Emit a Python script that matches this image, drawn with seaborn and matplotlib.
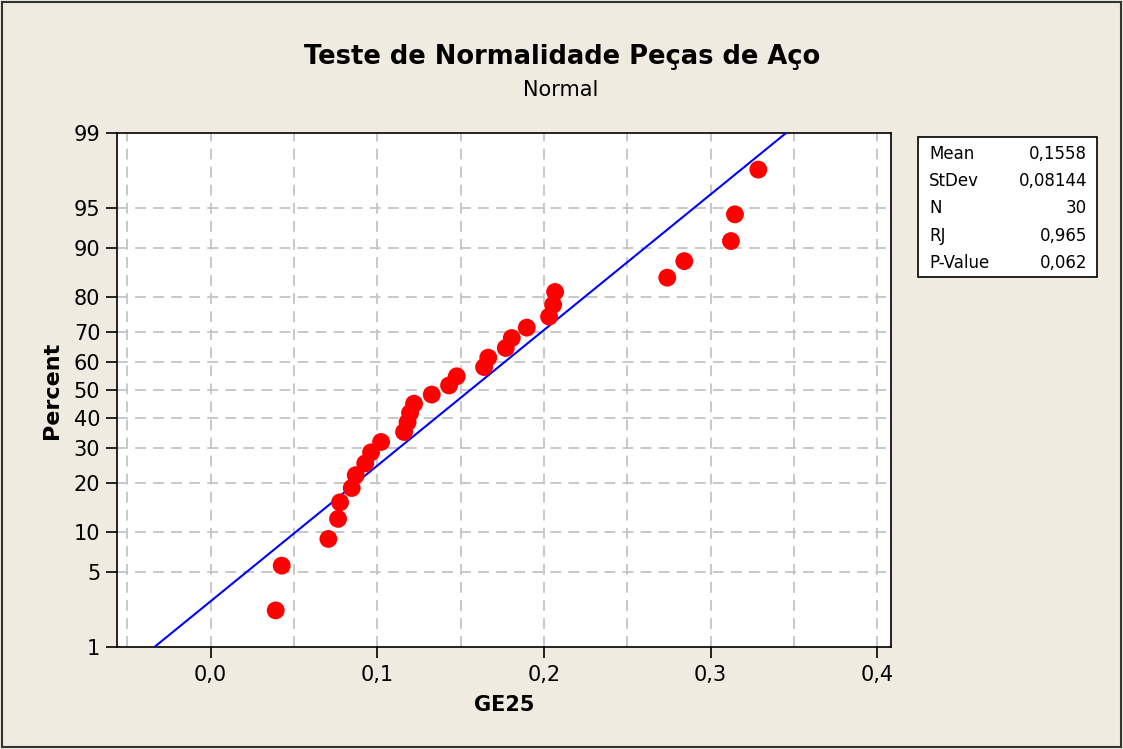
import numpy as np
import pandas as pd
import matplotlib
matplotlib.use('Agg')
import matplotlib.pyplot as plt
from matplotlib.patches import Rectangle
from matplotlib.ticker import FixedLocator, FuncFormatter
import seaborn as sns
from statistics import NormalDist

# valores
ge25 = [0.0391, 0.0427, 0.0707, 0.0765, 0.0777, 0.0847, 0.0871, 0.0928, 0.0963, 0.1023,
        0.1161, 0.1182, 0.1197, 0.1221, 0.1327, 0.1431, 0.1477, 0.1641, 0.1666, 0.1771,
        0.1807, 0.1897, 0.2031, 0.2055, 0.2067, 0.2740, 0.2842, 0.3122, 0.3146, 0.3286]
percent_ticks = [1, 5, 10, 20, 30, 40, 50, 60, 70, 80, 90, 95, 99]
x_ticks = [0.0, 0.1, 0.2, 0.3, 0.4]
stat_labels = ['Mean', 'StDev', 'N', 'RJ', 'P-Value']
stat_values = ['0,1558', '0,08144', '30', '0,965', '0,062']
media = 0.1558
desvio = 0.08144

nd = NormalDist()
n = len(ge25)
# posições de Benard (median ranks), como no Minitab
df = pd.DataFrame({'GE25': sorted(ge25)})
df['z'] = [nd.inv_cdf((i - 0.3) / (n + 0.4)) for i in range(1, n + 1)]

z_lo, z_hi = nd.inv_cdf(0.01), nd.inv_cdf(0.99)
linha = pd.DataFrame({'z': [z_lo, z_hi]})
linha['GE25'] = media + desvio * linha['z']

sns.set_theme(style='white')
plt.rcParams['font.family'] = ['DejaVu Sans']
plt.rcParams['text.color'] = 'black'
plt.rcParams['axes.labelcolor'] = 'black'
plt.rcParams['xtick.color'] = 'black'
plt.rcParams['ytick.color'] = 'black'

bg = '#EFEBE1'
fig = plt.figure(figsize=(11.23, 7.49), dpi=100, facecolor=bg)
ax = fig.add_axes([117 / 1123, 1 - 647 / 749, 774 / 1123, 514 / 749])
ax.set_facecolor('white')

sns.lineplot(data=linha, x='GE25', y='z', color='#0000FF', lw=1.5, ax=ax, zorder=3)
sns.scatterplot(data=df, x='GE25', y='z', color='#FF0000', s=165, edgecolor='none',
                ax=ax, zorder=4)

ax.set_xlim(-0.0561, 0.4082)
ax.set_ylim(z_lo, z_hi)

ax.xaxis.set_major_locator(FixedLocator(x_ticks))
ax.xaxis.set_major_formatter(FuncFormatter(lambda v, p: f'{v:.1f}'.replace('.', ',')))
ax.set_yticks([nd.inv_cdf(p / 100) for p in percent_ticks])
ax.set_yticklabels([str(p) for p in percent_ticks])

# grade tracejada
for xv in np.arange(-0.05, 0.401, 0.05):
    ax.axvline(xv, color='#C4C4C4', lw=1.3, ls=(0, (6, 4)), zorder=1)
for p in percent_ticks[1:-1]:
    ax.axhline(nd.inv_cdf(p / 100), color='#C4C4C4', lw=1.3, ls=(0, (6, 4)), zorder=1)

for s in ax.spines.values():
    s.set_color('black')
    s.set_linewidth(1.2)
ax.tick_params(axis='both', direction='out', length=8, width=1.2, color='black',
               labelsize=15, pad=4, bottom=True, left=True)
ax.tick_params(axis='x', pad=5)

ax.set_xlabel('GE25', fontsize=15, fontweight='bold', labelpad=7)
ax.set_ylabel('Percent', fontsize=16, fontweight='bold', labelpad=8)

fig.text(0.501, 1 - 57 / 749, 'Teste de Normalidade Peças de Aço', ha='center', va='center',
         fontsize=18.5, fontweight='bold')
fig.text(0.499, 1 - 90 / 749, 'Normal', ha='center', va='center', fontsize=15)

# caixa de estatísticas
fig.patches.append(Rectangle((918 / 1123, 1 - 277 / 749), 179 / 1123, 140 / 749,
                             transform=fig.transFigure, facecolor='white',
                             edgecolor='black', lw=1.2))
for k, (lab, val) in enumerate(zip(stat_labels, stat_values)):
    yy = 1 - (154 + k * 27.2) / 749
    fig.text(929 / 1123, yy, lab, ha='left', va='center', fontsize=12)
    fig.text(1087 / 1123, yy, val, ha='right', va='center', fontsize=12)

# moldura externa
fig.patches.append(Rectangle((0.002, 0.003), 0.996, 0.994, transform=fig.transFigure,
                             facecolor='none', edgecolor='#333333', lw=1.5))

fig.savefig('out.png', dpi=100, facecolor=bg)
